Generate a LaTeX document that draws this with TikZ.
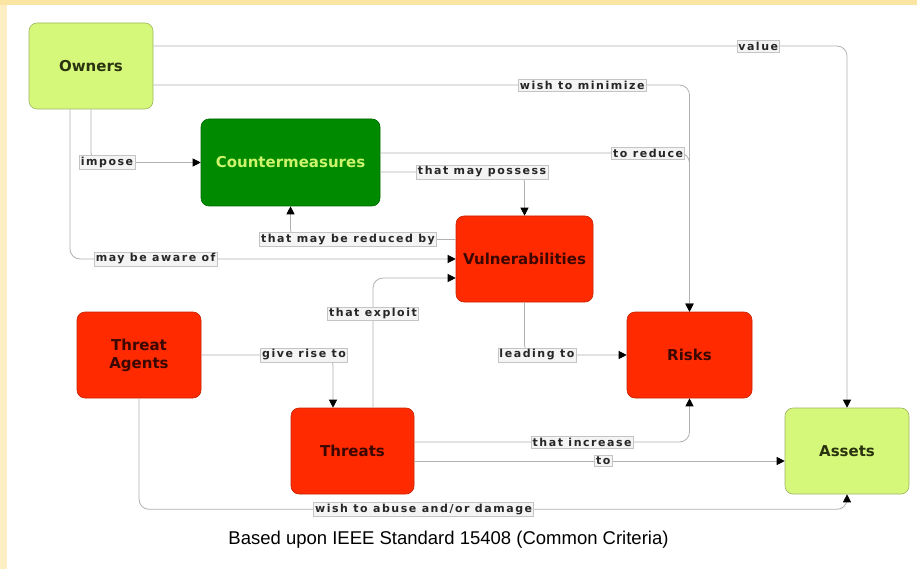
\documentclass[tikz,border=0pt]{standalone}
\usepackage{fontspec}
\setmainfont{Liberation Sans}
\newfontfamily\boxfont{DejaVu Sans}
\newfontfamily\linkfont[LetterSpace=14]{DejaVu Sans}
\usepackage{tikz}
\usetikzlibrary{
	arrows.meta,									% 提供各种箭头样式
}
\definecolor{frametop}{HTML}{FAE6A2}
\definecolor{frameleft}{HTML}{FDEFC3}
\definecolor{assetgreen}{HTML}{D6F87A}
\definecolor{assetedge}{HTML}{9DB562}
\definecolor{assettext}{HTML}{2A3310}
\definecolor{cmgreen}{HTML}{008A00}
\definecolor{cmedge}{HTML}{006A00}
\definecolor{cmtext}{HTML}{CCF46C}
\definecolor{riskred}{HTML}{FF2A00}
\definecolor{riskedge}{HTML}{C42200}
\definecolor{risktext}{HTML}{3A0800}
\definecolor{linkgray}{HTML}{B0B0B0}
\definecolor{labelfill}{HTML}{F4F4F4}
\definecolor{labeledge}{HTML}{C4C4C4}

\begin{document}
\begin{tikzpicture}[x=1pt, y=-1pt,
	box/.style={rounded corners=8pt, minimum width=124pt, minimum height=86pt, align=center, line width=0.6pt, font=\boxfont\bfseries\fontsize{15}{18}\selectfont},
	asset/.style={box, fill=assetgreen, draw=assetedge, text=assettext},
	danger/.style={box, fill=riskred, draw=riskedge, text=risktext},
	link/.style={draw=linkgray, line width=0.8pt, rounded corners=10pt, -{Triangle[length=8pt,width=8pt,color=black]}},
	lbl/.style={sharp corners, fill=labelfill, draw=labeledge, line width=0.4pt, inner sep=1.5pt, text=black!85, font=\linkfont\bfseries\fontsize{11}{12}\selectfont},
	]
		\useasboundingbox (0,0) rectangle (917,569);
		\fill [frameleft] (0,0) rectangle (917,569);
		\fill [frametop] (0,0) rectangle (917,5);
		\fill [white] (7,5) rectangle (917,569);
		\node [asset] (owners) at (91,66) {Owners};
		\node [box, fill=cmgreen, draw=cmedge, text=cmtext, minimum width=179pt, minimum height=87pt] (cm) at (290.5,162.5) {Countermeasures};
		\node [danger, minimum width=137pt] (vuln) at (524.5,259) {Vulnerabilities};
		\node [danger, minimum width=125pt] (risks) at (689.5,355) {Risks};
		\node [asset] (assets) at (847,451) {Assets};
		\node [danger] (agents) at (139,355) {Threat\\Agents};
		\node [danger, minimum width=123pt] (threats) at (352.5,451) {Threats};
		\draw [link] ([yshift=20pt]owners.east) -| node[lbl, pos=0.436] {value} (assets.north);
		\draw [link] ([yshift=-19pt]owners.east) -| node[lbl, pos=0.40] {wish to minimize} (risks.north);
		\draw [link] ([yshift=9.5pt]cm.east) -| node[lbl, pos=0.433] {to reduce} (risks.north);
		\draw [link] ([yshift=-9.5pt]cm.east) -| node[lbl, pos=0.353] {that may possess} (vuln.north);
		\draw [link] ([yshift=19.5pt]vuln.west) -| node[lbl, pos=0.326] {that may be reduced by} (cm.south);
		\draw [link] ([xshift=-21pt]owners.south) |- node[lbl, pos=0.611] {may be aware of} (vuln.west);
		\draw [link] (owners.south) |- node[lbl, pos=0.573] {impose} (cm.west);
		\draw [link] ([xshift=20.5pt]threats.north) |- node[lbl, pos=0.362] {that exploit} ([yshift=-19pt]vuln.west);
		\draw [link] (agents.east) -| node[lbl, pos=0.39] {give rise to} ([xshift=-19.5pt]threats.north);
		\draw [link] (vuln.south) |- node[lbl, pos=0.561] {leading to} (risks.west);
		\draw [link] ([yshift=9pt]threats.east) -| node[lbl, pos=0.305] {that increase} (risks.south);
		\draw [link] ([yshift=-10pt]threats.east) -- node[lbl, pos=0.51] {to} ([yshift=-10pt]assets.west);
		\draw [link] (agents.south) -- ++(0,111) -| node[lbl, pos=0.201] {wish to abuse and/or damage} (assets.south);
		\node [font=\fontsize{18.5}{22}\selectfont] (caption) at (448.5,540) {Based upon IEEE Standard 15408 (Common Criteria)};
	\end{tikzpicture}
\end{document}
